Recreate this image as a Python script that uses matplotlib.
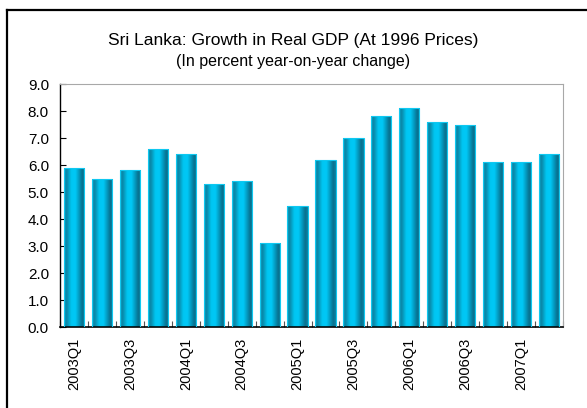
import numpy as np
import matplotlib
matplotlib.use("Agg")
import matplotlib.pyplot as plt
from matplotlib.colors import LinearSegmentedColormap
from matplotlib.lines import Line2D

plt.rcParams['font.family'] = ['Liberation Sans', 'DejaVu Sans']

# data
quarters = ['2003Q1', '2003Q2', '2003Q3', '2003Q4',
            '2004Q1', '2004Q2', '2004Q3', '2004Q4',
            '2005Q1', '2005Q2', '2005Q3', '2005Q4',
            '2006Q1', '2006Q2', '2006Q3', '2006Q4',
            '2007Q1', '2007Q2']
growth = [5.9, 5.5, 5.8, 6.6, 6.4, 5.3, 5.4, 3.1, 4.5,
          6.2, 7.0, 7.8, 8.1, 7.6, 7.5, 6.1, 6.1, 6.4]
yticks = [0.0, 1.0, 2.0, 3.0, 4.0, 5.0, 6.0, 7.0, 8.0, 9.0]

fig = plt.figure(figsize=(5.87, 4.08), dpi=100)
ax = fig.add_axes([0.1022, 0.1985, 0.857, 0.5955])

x = np.arange(len(quarters))
bars = ax.bar(x, growth, width=0.72, facecolor='none', edgecolor='#10c8f0',
              linewidth=0.8, zorder=3)

# cylinder-like horizontal gradient inside each bar
cyl = LinearSegmentedColormap.from_list('cyl', [
    (0.0, '#0a9cc0'), (0.12, '#0a86a6'), (0.35, '#00c6f2'),
    (0.55, '#00c8f6'), (0.88, '#08708e'), (1.0, '#0a84a4')])
grad = np.linspace(0, 1, 64).reshape(1, -1)
for b in bars:
    x0, w, h = b.get_x(), b.get_width(), b.get_height()
    im = ax.imshow(grad, cmap=cyl, aspect='auto', extent=[x0, x0 + w, 0, h],
                   zorder=2, interpolation='bilinear')
    im.set_clip_path(b)

ax.set_xlim(-0.5, len(quarters) - 0.5)
ax.set_ylim(0, 9)
ax.set_yticks(yticks)
ax.set_yticklabels([f'{v:.1f}' for v in yticks], fontsize=11)
ax.tick_params(axis='y', direction='in', length=4, width=0.8, pad=8)

# labels on every other quarter, tick marks between bars
ax.set_xticks(x[::2])
ax.set_xticklabels(quarters[::2], rotation=90, fontsize=10.5)
ax.tick_params(axis='x', length=0, pad=8)
ax.set_xticks(np.arange(len(quarters) + 1) - 0.5, minor=True)
ax.tick_params(axis='x', which='minor', direction='in', length=4,
               width=0.8, color='#555555')

ax.spines['left'].set_color('black')
ax.spines['bottom'].set_color('black')
ax.spines['left'].set_linewidth(1.0)
ax.spines['bottom'].set_linewidth(1.2)
ax.spines['top'].set_color('#a8a8a8')
ax.spines['right'].set_color('#a8a8a8')

fig.text(0.5, 0.9, 'Sri Lanka: Growth in Real GDP (At 1996 Prices)',
         ha='center', va='center', fontsize=12.5)
fig.text(0.5, 0.85, '(In percent year-on-year change)',
         ha='center', va='center', fontsize=11.5)

# outer frame (only top and left edges show in the crop)
fig.add_artist(Line2D([6.5 / 587, 6.5 / 587], [0, 1 - 10 / 408],
                      transform=fig.transFigure, color='black', linewidth=1.6))
fig.add_artist(Line2D([6.5 / 587, 1], [1 - 10 / 408, 1 - 10 / 408],
                      transform=fig.transFigure, color='black', linewidth=1.6))

fig.savefig('out.png', dpi=100)
